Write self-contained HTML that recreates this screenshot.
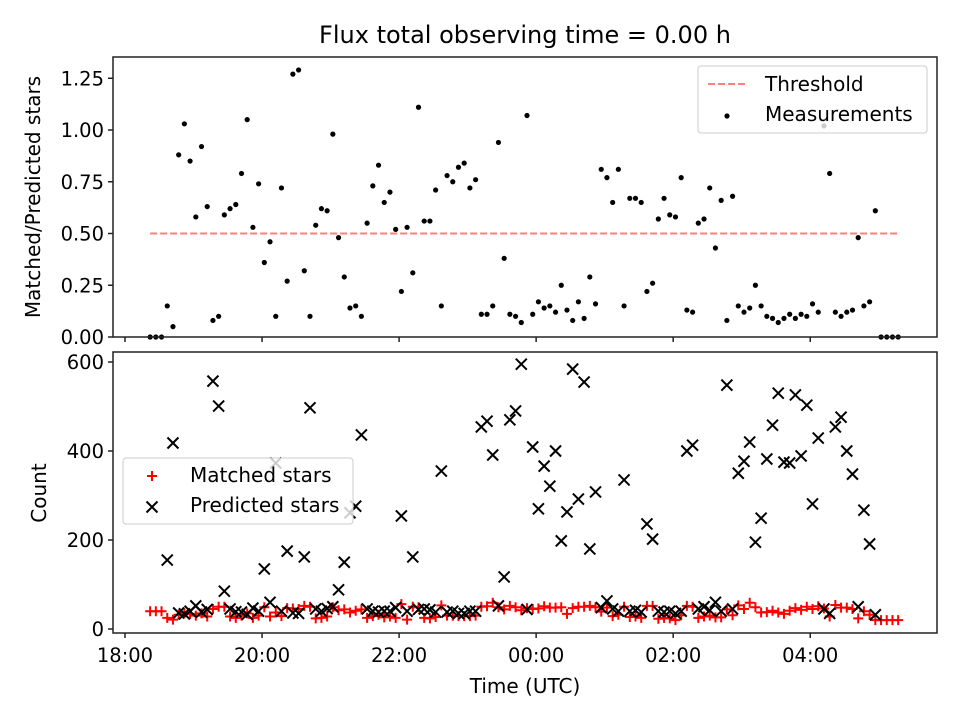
<!DOCTYPE html>
<html><head><meta charset="utf-8"><style>
body{margin:0;background:#fff;}
svg text{font-family:"DejaVu Sans","Liberation Sans",sans-serif;fill:#000;}
</style></head><body>
<svg id="chart" width="960" height="720" viewBox="0 0 960 720" xmlns="http://www.w3.org/2000/svg">
<rect width="960" height="720" fill="#fff"/>
<text x="525" y="43" font-size="24" text-anchor="middle">Flux total observing time = 0.00 h</text>
<g id="topPanel"></g><g id="botPanel"></g>
</svg>
<script>
const timesMin=[22,27,32,37,42,47,52,57,62,67,72,77,82,87,92,97,102,107,112,117,122,127,132,137,142,147,152,157,162,167,172,177,182,187,192,197,202,207,212,217,222,227,232,237,242,247,252,257,262,267,272,277,282,287,292,297,302,307,312,317,322,327,332,337,342,347,352,357,362,367,372,377,382,387,392,397,402,407,412,417,422,427,432,437,442,447,452,457,462,467,472,477,482,487,492,497,502,507,512,517,522,527,532,537,542,547,552,557,562,567,572,577,582,587,592,597,602,607,612,617,622,627,632,637,642,647,652,657,662,667,672,677];
const ratio=[0,0,0,.15,.05,.88,1.03,.85,.58,.92,.63,.08,.10,.59,.62,.64,.79,1.05,.53,.74,.36,.46,.10,.72,.27,1.27,1.29,.32,.10,.54,.62,.61,.98,.48,.29,.14,.15,.10,.55,.73,.83,.65,.70,.52,.22,.53,.31,1.11,.56,.56,.71,.15,.78,.75,.82,.84,.72,.76,.11,.11,.15,.94,.38,.11,.10,.07,1.07,.11,.17,.14,.15,.12,.25,.13,.08,.17,.09,.29,.16,.81,.77,.65,.81,.15,.67,.67,.65,.22,.26,.57,.67,.59,.58,.77,.13,.12,.55,.57,.72,.43,.66,.08,.68,.15,.12,.14,.25,.15,.10,.09,.07,.09,.11,.09,.11,.10,.16,.12,1.02,.79,.12,.10,.12,.13,.48,.15,.17,.61,0,0,0,0];
const predicted=[null,null,null,155,418,36,34,40,52,38,44,557,501,85,45,39,38,33,47,40,135,60,373,40,175,36,35,162,497,45,40,46,50,88,150,261,276,436,45,40,38,40,40,48,254,40,162,44,45,43,38,355,38,40,35,35,40,40,454,467,391,52,117,470,490,595,44,409,270,366,321,400,198,263,584,292,555,180,308,48,63,45,40,335,40,42,38,236,202,40,38,40,35,40,400,413,45,50,42,60,40,548,45,350,377,420,195,249,382,458,530,375,373,526,389,503,281,429,45,35,454,476,400,348,50,267,191,32,null,null,null,null];
const matched=[40,40,40,25,21,32,35,34,30,35,28,45,50,50,28,25,30,35,25,30,49,28,37,29,47,46,45,52,50,24,25,28,49,42,44,37,41,44,25,29,32,26,28,25,56,21,50,49,25,24,27,53,30,30,29,29,29,30,50,51,59,49,44,52,49,42,47,45,46,51,48,48,49,34,47,50,50,52,49,39,48,29,32,50,27,28,25,52,52,23,25,24,20,31,52,50,25,28,30,26,26,44,31,53,45,59,49,37,38,41,37,34,41,47,43,50,45,51,46,28,54,48,48,45,24,40,32,20,20,20,20,20];
const threshold=0.5;
const xTickLabels=["18:00","20:00","22:00","00:00","02:00","04:00"];
const xTickMin=[0,120,240,360,480,600];
const topYTicks=[0,0.25,0.5,0.75,1.0,1.25];
const topYLabels=["0.00","0.25","0.50","0.75","1.00","1.25"];
const botYTicks=[0,200,400,600];

const NS="http://www.w3.org/2000/svg";
const AX_L=113,AX_R=937;
const xs=m=>AX_L+(m+10.5)*(AX_R-AX_L)/(711+10.5);
const yTop=v=>337-v*207;
const yBot=v=>629-v*0.445;
function mk(tag,attrs,parent){const e=document.createElementNS(NS,tag);for(const k in attrs)e.setAttribute(k,attrs[k]);parent.appendChild(e);return e;}
const topG=document.getElementById('topPanel'),botG=document.getElementById('botPanel');
const svgEl=document.getElementById('chart');

let th=mk('line',{x1:xs(timesMin[0]),x2:xs(timesMin[timesMin.length-1]),y1:yTop(threshold),y2:yTop(threshold),stroke:'#ff7f7f','stroke-width':2,'stroke-dasharray':'7,3'},topG);


ratio.forEach((v,i)=>{const c=mk('circle',{cx:xs(timesMin[i]),cy:yTop(v),r:2.6,fill:'#000'},topG);

});
matched.forEach((v,i)=>{const x=xs(timesMin[i]),y=yBot(v);const p=mk('path',{d:`M${x-5},${y}H${x+5}M${x},${y-5}V${y+5}`,stroke:'#f00','stroke-width':2,fill:'none'},botG);

});
predicted.forEach((v,i)=>{if(v===null)return;const x=xs(timesMin[i]),y=yBot(v);const p=mk('path',{d:`M${x-5.5},${y-5.5}L${x+5.5},${y+5.5}M${x-5.5},${y+5.5}L${x+5.5},${y-5.5}`,stroke:'#000','stroke-width':2,fill:'none'},botG);

});

function frame(y1,y2,name){const r=mk('rect',{x:AX_L,y:y1,width:AX_R-AX_L,height:y2-y1,fill:'none',stroke:'#222','stroke-width':1.5},svgEl);

}
frame(57,337,'top-axes-frame');frame(352,633,'bottom-axes-frame');
xTickMin.forEach((m,i)=>{const x=xs(m);
mk('line',{x1:x,x2:x,y1:337,y2:342,stroke:'#222','stroke-width':1.5},svgEl);
mk('line',{x1:x,x2:x,y1:633,y2:638,stroke:'#222','stroke-width':1.5},svgEl);
const t=mk('text',{x:x,y:662,'font-size':19.5,'text-anchor':'middle'},svgEl);t.textContent=xTickLabels[i];

});
topYTicks.forEach((v,i)=>{const y=yTop(v);mk('line',{x1:AX_L-5,x2:AX_L,y1:y,y2:y,stroke:'#222','stroke-width':1.5},svgEl);
const t=mk('text',{x:AX_L-9,y:y+7,'font-size':19.5,'text-anchor':'end'},svgEl);t.textContent=topYLabels[i];

});
botYTicks.forEach(v=>{const y=yBot(v);mk('line',{x1:AX_L-5,x2:AX_L,y1:y,y2:y,stroke:'#222','stroke-width':1.5},svgEl);
const t=mk('text',{x:AX_L-9,y:y+7,'font-size':19.5,'text-anchor':'end'},svgEl);t.textContent=String(v);

});
</script>
<svg style="position:absolute;left:0;top:0" width="960" height="720" xmlns="http://www.w3.org/2000/svg">
<text transform="translate(40,197) rotate(-90)" font-size="20" text-anchor="middle">Matched/Predicted stars</text>
<text transform="translate(46,493) rotate(-90)" font-size="20" text-anchor="middle">Count</text>
<text x="525" y="693" font-size="20" text-anchor="middle">Time (UTC)</text>
<g>
<rect x="698" y="66" width="229" height="67" rx="3" fill="#fff" fill-opacity="0.8" stroke="#ccc"/>
<line x1="708" y1="84" x2="748" y2="84" stroke="#ff7f7f" stroke-width="2" stroke-dasharray="7,3"/>
<text x="765" y="91" font-size="20">Threshold</text>
<circle cx="727" cy="116" r="2.6" fill="#000"/>
<text x="765" y="121" font-size="20">Measurements</text>
</g>
<g>
<rect x="123" y="458" width="230" height="66" rx="3" fill="#fff" fill-opacity="0.8" stroke="#ccc"/>
<path d="M147,476H157M152,471V481" stroke="#f00" stroke-width="2"/>
<text x="190" y="482" font-size="20">Matched stars</text>
<path d="M146.5,501.5L157.5,512.5M146.5,512.5L157.5,501.5" stroke="#000" stroke-width="2"/>
<text x="190" y="512" font-size="20">Predicted stars</text>
</g>
</svg>
</body></html>
